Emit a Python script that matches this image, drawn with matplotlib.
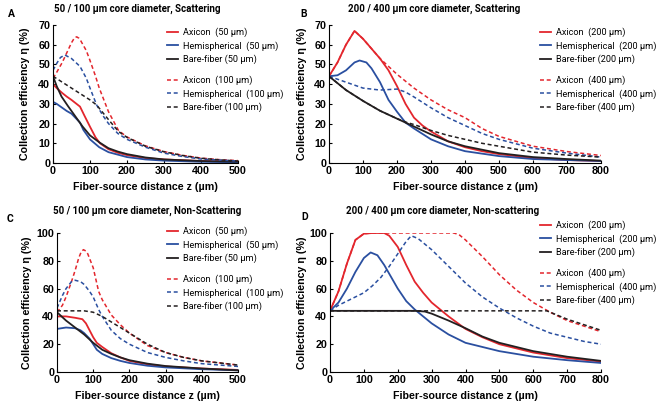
import numpy as np
import matplotlib
matplotlib.use('Agg')
import matplotlib.pyplot as plt
from matplotlib.font_manager import FontProperties

# ---------- data ----------
# A: 50 / 100 um, scattering
xa_axi50 = [0, 10, 25, 37, 50, 73, 85, 100, 115, 127, 150, 175, 200, 250, 300, 400, 500]
ya_axi50 = [40, 38, 35.5, 33.7, 32, 28.6, 24, 18.4, 13, 10, 7, 5.2, 4, 2.5, 1.8, 1, 0.7]
xa_hemi50 = [0, 10, 25, 37, 50, 73, 82, 100, 125, 150, 200, 250, 300, 400, 500]
ya_hemi50 = [31, 30, 28, 26.4, 25, 20.5, 16.8, 12, 8, 5.5, 3, 1.8, 1.2, 0.6, 0.4]
xa_bare50 = [0, 10, 23, 40, 64, 80, 100, 125, 150, 175, 200, 250, 300, 400, 500]
ya_bare50 = [44, 39, 33.7, 29, 22.7, 18.5, 14, 10.5, 7.5, 5.8, 4.5, 2.8, 1.8, 1, 0.7]
xa_axi100 = [0, 10, 25, 40, 50, 58, 64, 70, 75, 90, 100, 115, 125, 150, 177, 200, 250, 300, 350, 400, 450, 500]
ya_axi100 = [43, 46, 51, 57, 61, 63.5, 64, 63.3, 62, 57, 52, 44, 38, 26, 16.5, 13.2, 8.7, 5.8, 3.9, 2.5, 1.7, 1.2]
xa_hemi100 = [0, 10, 20, 32, 50, 73, 90, 100, 118, 135, 150, 175, 200, 250, 300, 350, 400, 500]
ya_hemi100 = [47, 50.5, 53.5, 54.8, 53, 49, 43, 38, 29.4, 24, 20, 15, 12, 8, 5, 3.3, 2, 1]
xa_bare100 = [0, 50, 100, 118, 150, 177, 200, 250, 300, 350, 400, 450, 500]
ya_bare100 = [44, 38, 32, 29.4, 22, 16, 13, 8.5, 5.7, 3.8, 2.4, 1.6, 1]

# B: 200 / 400 um, scattering
xb_axi200 = [0, 25, 50, 75, 100, 125, 150, 175, 200, 225, 250, 275, 300, 350, 400, 450, 500, 600, 700, 800]
yb_axi200 = [44, 51, 60, 67, 63, 58, 53, 47, 39, 30, 23, 19, 16, 11, 8, 6, 4.5, 2.5, 1.5, 1]
xb_hemi200 = [0, 25, 50, 75, 90, 110, 125, 150, 175, 200, 225, 250, 300, 350, 400, 500, 600, 700, 800]
yb_hemi200 = [44, 44.5, 47, 51, 52, 51, 48, 41, 32, 26, 20.5, 17.5, 12, 8.5, 6, 3.5, 2, 1.5, 1]
xb_bare200 = [0, 50, 100, 150, 200, 250, 300, 350, 400, 500, 600, 700, 800]
yb_bare200 = [44, 37, 31.5, 26.5, 22.5, 18.5, 14.5, 11, 8.5, 5, 3, 2, 1.2]
xb_axi400 = [0, 25, 50, 75, 100, 125, 150, 175, 200, 250, 300, 350, 400, 450, 500, 600, 700, 800]
yb_axi400 = [44, 51, 60, 67, 63, 58, 53, 49, 45, 38, 32, 27, 23, 17.5, 13.5, 8.5, 5.8, 3.8]
xb_hemi400 = [0, 50, 100, 150, 200, 225, 250, 300, 350, 400, 450, 500, 600, 700, 800]
yb_hemi400 = [44, 41, 38, 37, 37.5, 36, 33.5, 28, 23, 19, 15, 12, 7.5, 5, 3]
xb_bare400 = [0, 50, 100, 150, 200, 230, 250, 300, 350, 400, 450, 500, 600, 700, 800]
yb_bare400 = [44, 37, 31.5, 26.5, 22.5, 20.5, 19.5, 16.5, 14, 12, 10, 8.5, 5.5, 4, 3]

# C: 50 / 100 um, non-scattering
xc_axi50 = [0, 25, 50, 70, 80, 90, 100, 110, 125, 150, 175, 200, 250, 300, 400, 500]
yc_axi50 = [40, 40, 39, 38, 35, 30, 25, 21, 18, 13.5, 10.5, 8, 5.5, 4, 2.5, 1.5]
xc_hemi50 = [0, 25, 50, 65, 75, 90, 100, 110, 125, 150, 175, 200, 250, 300, 400, 500]
yc_hemi50 = [31, 32, 31.5, 30, 28, 24, 20, 16, 13, 10, 8, 6.5, 4.5, 3.3, 2, 1.2]
xc_bare50 = [0, 25, 50, 75, 100, 125, 150, 175, 200, 250, 300, 400, 500]
yc_bare50 = [43, 37, 32, 27, 21, 16, 13, 10.5, 8.5, 6, 4.3, 2.5, 1.2]
xc_axi100 = [0, 15, 25, 40, 50, 60, 67, 73, 80, 85, 100, 115, 125, 150, 175, 200, 250, 300, 350, 400, 450, 500]
yc_axi100 = [43, 48, 54, 65, 73, 82, 86.5, 88, 87, 85, 75, 58, 52, 41, 34, 28, 19, 14, 10.5, 8, 6.5, 5]
xc_hemi100 = [0, 15, 25, 40, 50, 65, 75, 90, 100, 115, 125, 150, 175, 200, 250, 300, 350, 400, 450, 500]
yc_hemi100 = [46, 55, 60, 65, 66, 65, 63, 58, 54, 45, 40, 30, 24, 20, 14, 10.5, 8, 6, 5, 4]
xc_bare100 = [0, 25, 50, 75, 100, 125, 150, 175, 200, 250, 300, 350, 400, 450, 500]
yc_bare100 = [44, 44, 44, 44, 43, 40, 36, 32, 28, 20, 14, 10.5, 8, 6.5, 5]

# D: 200 / 400 um, non-scattering
xd_axi200 = [0, 25, 50, 75, 100, 125, 160, 175, 200, 225, 250, 275, 300, 350, 400, 450, 500, 600, 700, 800]
yd_axi200 = [44, 58, 78, 95, 99.5, 100, 100, 98, 90, 77, 65, 57, 50, 40, 31, 25, 20, 14, 10, 7.5]
xd_hemi200 = [0, 25, 50, 75, 100, 120, 140, 160, 200, 225, 250, 300, 350, 400, 450, 500, 600, 700, 800]
yd_hemi200 = [44, 50, 60, 72, 82, 86, 84, 77, 60, 51, 45, 35, 27, 21, 18, 15, 11, 8.5, 6.5]
xd_bare200 = [0, 100, 200, 250, 280, 300, 350, 400, 450, 500, 600, 700, 800]
yd_bare200 = [44, 44, 44, 44, 43.5, 42, 37, 31.5, 25.5, 21, 15, 11, 8]
xd_axi400 = [0, 25, 50, 75, 100, 125, 200, 300, 365, 380, 400, 450, 500, 550, 600, 650, 700, 750, 800]
yd_axi400 = [44, 58, 78, 95, 99.5, 100, 100, 100, 100, 99, 95, 83, 70, 59, 50, 43, 37, 33, 29]
xd_hemi400 = [0, 25, 50, 75, 100, 125, 150, 175, 200, 225, 240, 260, 275, 300, 350, 400, 450, 500, 550, 600, 650, 700, 750, 800]
yd_hemi400 = [44, 48, 51, 54, 57, 62, 68, 76, 85, 94, 98, 96, 93, 88, 76, 64, 54, 46, 39, 33, 28, 25, 22, 20]
xd_bare400 = [0, 200, 400, 640, 660, 700, 750, 800]
yd_bare400 = [44, 44, 44, 44, 42, 38, 34, 30]

RED = '#e3262d'
BLUE = '#2a4fa0'
BLACK = '#231f20'

panels = [
    dict(letter='A', title='50 / 100 µm core diameter, Scattering', small='50', big='100',
         xmax=500, ymax=70, ystep=10,
         curves=[(xa_axi50, ya_axi50), (xa_hemi50, ya_hemi50), (xa_bare50, ya_bare50),
                 (xa_axi100, ya_axi100), (xa_hemi100, ya_hemi100), (xa_bare100, ya_bare100)],
         rect=[53 / 659, 1 - 163 / 401, 185 / 659, 138 / 401],
         leg_x=(167 - 53) / 185, leg_y1=(163 - 27.5) / 138, leg_y2=(163 - 75.5) / 138,
         title_x=137, title_y=9, let_xy=(8, 14), ylab_x=(30 - 53) / 185),
    dict(letter='B', title='200 / 400 µm core diameter, Scattering', small='200', big='400',
         xmax=800, ymax=70, ystep=10,
         curves=[(xb_axi200, yb_axi200), (xb_hemi200, yb_hemi200), (xb_bare200, yb_bare200),
                 (xb_axi400, yb_axi400), (xb_hemi400, yb_hemi400), (xb_bare400, yb_bare400)],
         rect=[329 / 659, 1 - 163 / 401, 272 / 659, 138 / 401],
         leg_x=(540 - 329) / 272, leg_y1=(163 - 27.5) / 138, leg_y2=(163 - 75.5) / 138,
         title_x=434, title_y=9, let_xy=(300, 14), ylab_x=(307 - 329) / 272),
    dict(letter='C', title='50 / 100 µm core diameter, Non-Scattering', small='50', big='100',
         xmax=500, ymax=100, ystep=20,
         curves=[(xc_axi50, yc_axi50), (xc_hemi50, yc_hemi50), (xc_bare50, yc_bare50),
                 (xc_axi100, yc_axi100), (xc_hemi100, yc_hemi100), (xc_bare100, yc_bare100)],
         rect=[57 / 659, 1 - 372 / 401, 181 / 659, 139 / 401],
         leg_x=(167 - 57) / 181, leg_y1=(372 - 226.5) / 139, leg_y2=(372 - 274.5) / 139,
         title_x=147, title_y=211, let_xy=(7, 219), ylab_x=(32 - 57) / 181),
    dict(letter='D', title='200 / 400 µm core diameter, Non-scattering', small='200', big='400',
         xmax=800, ymax=100, ystep=20,
         curves=[(xd_axi200, yd_axi200), (xd_hemi200, yd_hemi200), (xd_bare200, yd_bare200),
                 (xd_axi400, yd_axi400), (xd_hemi400, yd_hemi400), (xd_bare400, yd_bare400)],
         rect=[330 / 659, 1 - 372 / 401, 271 / 659, 139 / 401],
         leg_x=(540 - 330) / 271, leg_y1=(372 - 220.5) / 139, leg_y2=(372 - 268.5) / 139,
         title_x=443, title_y=211, let_xy=(301, 217), ylab_x=(307 - 330) / 271),
]

fig = plt.figure(figsize=(6.59, 4.01), dpi=100)

TICKFONT = dict(family='Liberation Sans', weight='bold', size=7.7)
LEGFONT = dict(family='Roboto', size=6.6)

for p in panels:
    ax = fig.add_axes(p['rect'])
    colors = [RED, BLUE, BLACK, RED, BLUE, BLACK]
    names = ['Axicon', 'Hemispherical', 'Bare-fiber']
    handles = []
    for i, (xs, ys) in enumerate(p['curves']):
        if i < 3:
            ln, = ax.plot(xs, ys, color=colors[i], lw=1.3)
        else:
            ln, = ax.plot(xs, ys, color=colors[i], lw=1.1, dashes=(2.6, 1.8))
        handles.append(ln)

    labels = [n + ('  ' if n != 'Bare-fiber' else ' ') + '(%s µm)' % p['small'] for n in names]
    labels += [n + ('  ' if n != 'Bare-fiber' else ' ') + '(%s µm)' % p['big'] for n in names]

    # two stacked legends: small core on top, large core below
    kw = dict(loc='upper left', frameon=False, prop=LEGFONT, handlelength=1.2,
              handletextpad=0.5, labelspacing=0.42, borderpad=0, borderaxespad=0)
    leg1 = ax.legend(handles[:3], labels[:3], bbox_to_anchor=(p['leg_x'], p['leg_y1']), **kw)
    ax.add_artist(leg1)
    ax.legend(handles[3:], labels[3:], bbox_to_anchor=(p['leg_x'], p['leg_y2']), **kw)

    ax.set_xlim(0, p['xmax'])
    ax.set_ylim(0, p['ymax'])
    ax.set_xticks(np.arange(0, p['xmax'] + 1, 100))
    ax.set_yticks(np.arange(0, p['ymax'] + 1, p['ystep']))
    ax.tick_params(direction='in', length=2.5, width=0.8, pad=2)
    for lab in ax.get_xticklabels() + ax.get_yticklabels():
        lab.set_fontproperties(FontProperties(**TICKFONT))
    for s in ['top', 'right']:
        ax.spines[s].set_visible(False)
    for s in ['left', 'bottom']:
        ax.spines[s].set_linewidth(0.8)

    ax.set_xlabel('Fiber-source distance z (µm)', fontdict=TICKFONT)
    ax.set_ylabel('Collection efficiency η (%)', fontdict=TICKFONT)
    ax.xaxis.set_label_coords(0.5, -0.14)
    ax.yaxis.set_label_coords(p['ylab_x'], 0.5)

    fig.text(p['title_x'] / 659, 1 - p['title_y'] / 401, p['title'], ha='center', va='center',
             family='Roboto', weight='bold', size=7)
    fig.text(p['let_xy'][0] / 659, 1 - p['let_xy'][1] / 401, p['letter'], ha='left', va='center',
             family='Roboto', weight='bold', size=7.5)

fig.savefig('out.png', dpi=100)
